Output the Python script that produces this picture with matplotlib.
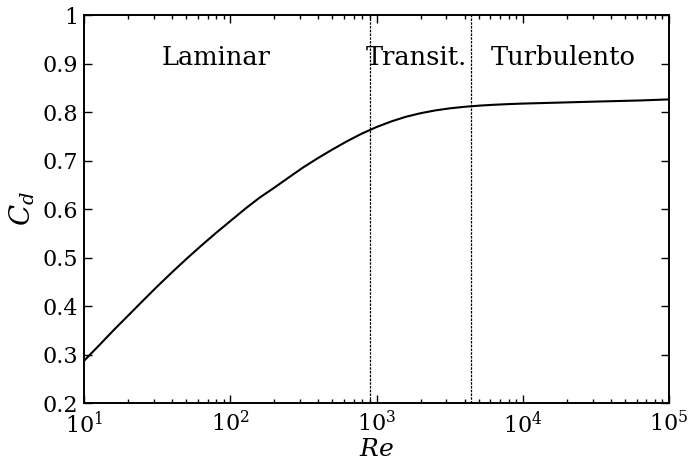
import matplotlib
matplotlib.use("Agg")
import matplotlib.pyplot as plt

re = [10, 12.6, 15.8, 20, 25.1, 31.6, 39.8, 50.1, 63.1, 79.4,
      100, 126, 158, 200, 251, 316, 398, 501, 631, 794,
      1000, 1260, 1580, 2000, 2510, 3160, 3980, 5010, 6310, 7940,
      10000, 15800, 31600, 63100, 100000]
cd = [0.287, 0.318, 0.349, 0.380, 0.410, 0.440, 0.469, 0.497, 0.524, 0.550,
      0.575, 0.600, 0.623, 0.644, 0.665, 0.686, 0.705, 0.723, 0.740, 0.7555,
      0.769, 0.7805, 0.790, 0.7975, 0.8032, 0.8075, 0.8107, 0.8131, 0.8149, 0.8163,
      0.8174, 0.819, 0.8215, 0.8238, 0.826]
regime_bounds = [900, 4400]
regime_labels = ["Laminar", "Transit.", "Turbulento"]
regime_label_x = [80, 1880, 18800]
yticks = [0.2, 0.3, 0.4, 0.5, 0.6, 0.7, 0.8, 0.9, 1.0]
ytick_labels = ["0.2", "0.3", "0.4", "0.5", "0.6", "0.7", "0.8", "0.9", "1"]

plt.rcParams['font.family'] = ['DejaVu Serif']
plt.rcParams['mathtext.fontset'] = 'dejavuserif'
plt.rcParams['font.size'] = 16

fig = plt.figure(figsize=(6.92, 4.62), dpi=100)
ax = fig.add_axes([0.1214, 0.1277, 0.8454, 0.8398])

ax.plot(re, cd, color='black', lw=1.5)
for b in regime_bounds:
    ax.axvline(b, color='black', lw=0.9, linestyle=(0, (2, 1)))
for lab, x in zip(regime_labels, regime_label_x):
    ax.text(x, 0.913, lab, ha='center', va='center', fontsize=18.5)

ax.set_xscale('log')
ax.set_xlim(10, 1e5)
ax.set_ylim(0.2, 1.0)
ax.set_yticks(yticks)
ax.set_yticklabels(ytick_labels)

ax.tick_params(which='both', direction='in', top=True, right=True, width=1.0)
ax.tick_params(which='major', length=6, labelsize=16, pad=4)
ax.tick_params(which='minor', length=3)
ax.tick_params(axis='x', which='major', pad=6)
for s in ax.spines.values():
    s.set_linewidth(1.4)

ax.set_xlabel(r'$Re$', fontsize=18, labelpad=0)
ax.set_ylabel(r'$C_d$', fontsize=20, labelpad=4)

fig.savefig('out.png', dpi=100)
